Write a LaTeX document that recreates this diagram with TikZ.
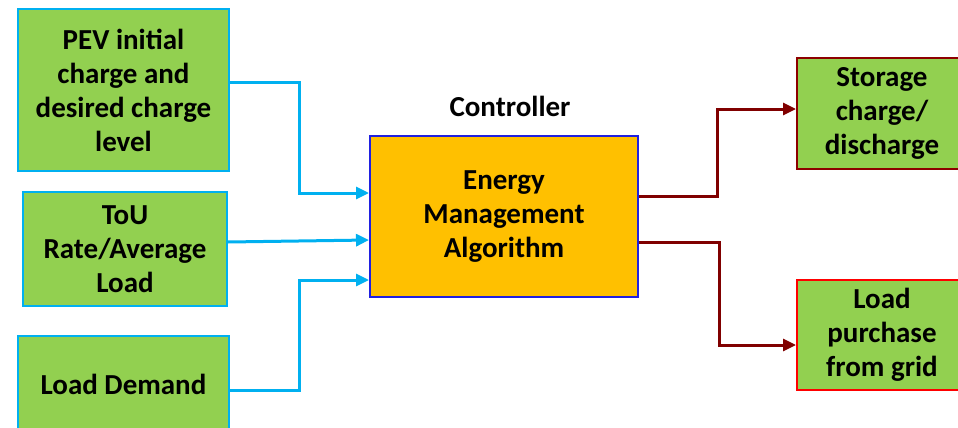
\documentclass[tikz,border=0pt]{standalone}
\usepackage{fontspec}
\setmainfont{Carlito}
\usetikzlibrary{arrows.meta}
\definecolor{boxgreen}{HTML}{92D050}
\definecolor{boxorange}{HTML}{FFC000}
\definecolor{lblue}{HTML}{00B0F0}
\definecolor{dred}{HTML}{800000}
\definecolor{cblue}{HTML}{2020E0}
\tikzset{
  txt/.style={font=\fontsize{29}{34}\selectfont\bfseries},
  inbox/.style={txt, draw=lblue, line width=2pt, fill=boxgreen, align=center, inner sep=0pt},
  outbox/.style={txt, line width=2pt, fill=boxgreen, align=center, inner sep=0pt},
  inarrow/.style={draw=lblue, line width=3pt, -{Triangle[length=13pt,width=12pt]}},
  outarrow/.style={draw=dred, line width=3pt, -{Triangle[length=13pt,width=12pt]}},
}
\begin{document}
\begin{tikzpicture}[x=1pt,y=-1pt]
\useasboundingbox (0,0) rectangle (958,428);
\clip (0,0) rectangle (958,428);
\node[inbox, minimum width=211pt, minimum height=162pt] (pev) at (123.5,90)
  {PEV initial\\charge and\\desired charge\\level};
\node[inbox, minimum width=204pt, minimum height=114pt] (tou) at (125,249)
  {ToU\\Rate/Average\\Load};
\node[inbox, minimum width=211pt, minimum height=96pt] (ld) at (123.5,384)
  {Load Demand};
\node[txt, draw=cblue, line width=2pt, fill=boxorange, align=center, inner sep=0pt,
  minimum width=268pt, minimum height=161pt] (ctrl) at (504,216.5)
  {Energy\\Management\\Algorithm};
\node[txt] (lbl) at (510,106) {Controller};
\node[outbox, draw=dred!90!red, minimum width=170pt, minimum height=111pt] (st) at (882,113.5)
  {Storage\\charge/\\discharge};
\node[outbox, draw=red, minimum width=170pt, minimum height=110pt] (lp) at (882,335)
  {Load\\purchase\\from grid};
\draw[inarrow] ([yshift=8pt]pev.east) -- ++(69,0) |- ([yshift=23.5pt]ctrl.west);
\draw[inarrow] ([yshift=7pt]tou.east) -- ([yshift=-23.5pt]ctrl.west);
\draw[inarrow] ([yshift=-6pt]ld.east) -- ++(69,0) |- ([yshift=-63.5pt]ctrl.west);
\draw[outarrow] ([yshift=20.5pt]ctrl.east) -- ++(78,0) |- ([yshift=4.5pt]st.west);
\draw[outarrow] ([yshift=-25.5pt]ctrl.east) -- ++(80,0) |- ([yshift=-10pt]lp.west);
\end{tikzpicture}
\end{document}
